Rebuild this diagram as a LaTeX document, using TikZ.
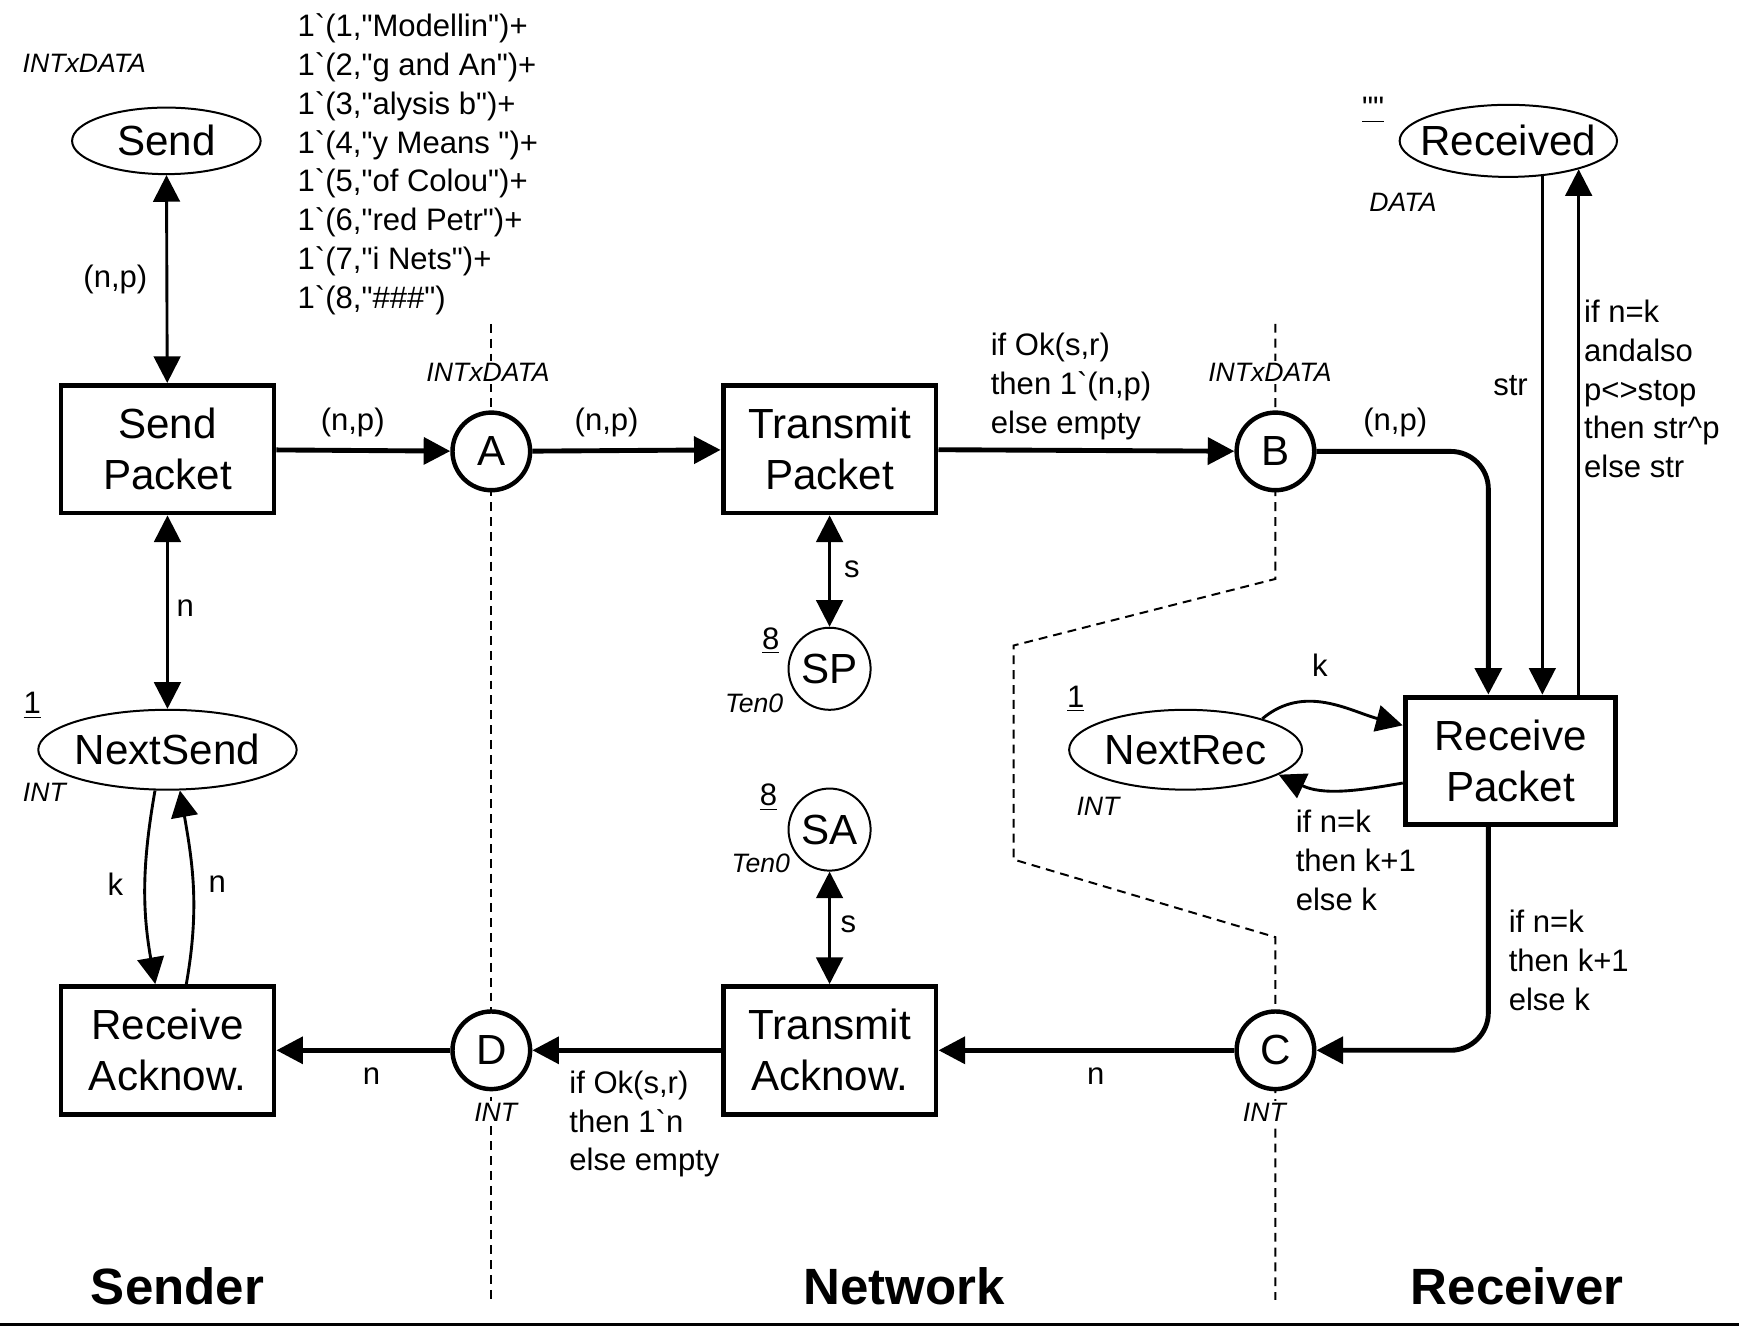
\documentclass[tikz,border=0pt]{standalone}
\usepackage{fontspec}
\setmainfont{Liberation Sans}[Ligatures=TeXOff]
\usetikzlibrary{arrows.meta,shapes.geometric}

\tikzset{
  trans/.style={draw, line width=2.2pt, fill=white, minimum width=96pt, minimum height=57.5pt,
    inner sep=0pt, align=center, font=\fontsize{19}{23}\selectfont},
  place/.style={draw, ellipse, line width=0.9pt, fill=white, inner sep=0pt,
    font=\fontsize{19}{23}\selectfont},
  port/.style={draw, circle, line width=2pt, fill=white, minimum size=35pt, inner sep=0pt,
    font=\fontsize{19}{23}\selectfont},
  limit/.style={draw, circle, line width=0.9pt, fill=white, minimum size=37pt, inner sep=0pt,
    font=\fontsize{19}{23}\selectfont},
  thickarc/.style={line width=2.2pt},
  thinarc/.style={line width=1.3pt},
  lbl/.style={inner sep=0pt, align=left, font=\fontsize{14}{17.5}\selectfont},
  typ/.style={inner sep=1pt, fill=white, font=\itshape\fontsize{12}{14}\selectfont},
  initm/.style={inner sep=0pt, font=\fontsize{14}{17.5}\selectfont},
  region/.style={inner sep=0pt, font=\bfseries\fontsize{23}{27}\selectfont},
  divider/.style={line width=0.9pt, dash pattern=on 4pt off 2.7pt}
}

\begin{document}
\begin{tikzpicture}[x=0.5pt,y=-0.5pt,>={Triangle[length=12pt,width=12pt]}]
\useasboundingbox (0,0) rectangle (1568,1196);

% borders between the three parts
\draw[divider] (443,292) -- (443,1172);
\draw[divider] (1150,292) -- (1150,522) -- (914,582) -- (914,775) -- (1150,845) -- (1150,1172);
\draw[line width=1.5pt] (0,1194) -- (1568,1194);

% sender
\node[place, minimum width=85pt, minimum height=30pt] (sendpl) at (150,127) {Send};
\node[trans] (sendpk) at (151,405) {Send\\Packet};
\node[place, inner xsep=-2pt, minimum width=116.5pt, minimum height=36pt] (nsend) at (151,676) {NextSend};
\node[trans] (recak) at (151,947) {Receive\\Acknow.};

% network
\node[port] (A) at (443,407) {A};
\node[port] (D) at (443,947) {D};
\node[trans] (trpk) at (748,405) {Transmit\\Packet};
\node[limit] (SP) at (748,603) {SP};
\node[limit] (SA) at (748,748) {SA};
\node[trans] (trak) at (748,947) {Transmit\\Acknow.};
\node[port] (B) at (1150,407) {B};
\node[port] (C) at (1150,947) {C};

% receiver
\node[place, minimum width=105pt, minimum height=36pt] (nrec) at (1069,676) {NextRec};
\node[trans, minimum width=95pt] (recpk) at (1362,686) {Receive\\Packet};
\node[place, inner xsep=-6pt, minimum width=98pt, minimum height=32.5pt] (recd) at (1360,127) {Received};

% arcs
\draw[thinarc,<->] (sendpl) -- (sendpk);
\draw[thinarc,<->] (sendpk) -- (nsend);
\draw[thickarc,->] (sendpk) -- (A);
\draw[thickarc,->] (A) -- (trpk);
\draw[thickarc,->] (trpk) -- (B);
\draw[thickarc,->,rounded corners=17pt] (B) -| ([xshift=-10pt]recpk.north);
\draw[thinarc,->] (recd.-46) -- (recd.-46 |- recpk.north);
\draw[thinarc,->] (recd.-22 |- recpk.north) -- (recd.-22);
\draw[thinarc,->] (nrec.22) to[out=40,in=165] ([yshift=16pt]recpk.west);
\draw[thinarc,->] ([yshift=-10pt]recpk.west) to[out=190,in=-25] (nrec.-15);
\draw[thickarc,->,rounded corners=17pt] ([xshift=-10pt]recpk.south) |- (C);
\draw[thickarc,->] (C) -- (trak);
\draw[thickarc,->] (trak) -- (D);
\draw[thickarc,->] (D) -- (recak);
\draw[thinarc,->] (nsend.-107) to[out=-100,in=100] ([xshift=-5.5pt]recak.north);
\draw[thinarc,->] ([xshift=8.5pt]recak.north) to[out=80,in=-80] (nsend.-73);
\draw[thinarc,<->] (trpk) -- (SP);
\draw[thinarc,<->] (SA) -- (trak);

% arc inscriptions
\node[lbl] at (104,252) {(n,p)};
\node[lbl] at (167,548) {n};
\node[lbl] at (318,381) {(n,p)};
\node[lbl] at (547,381) {(n,p)};
\node[lbl, anchor=north west] at (893,300) {if Ok(s,r)\\then 1\textasciigrave(n,p)\\else empty};
\node[lbl] at (1258,381) {(n,p)};
\node[lbl] at (1362,348) {str};
\node[lbl, anchor=north west] at (1428,270) {if n=k\\andalso\\p<>stop\\then str\textasciicircum p\\else str};
\node[lbl] at (1190,600) {k};
\node[lbl, anchor=north west] at (1168,730) {if n=k\\then k+1\\else k};
\node[lbl, anchor=north west] at (1360,820) {if n=k\\then k+1\\else k};
\node[lbl] at (988,970) {n};
\node[lbl, anchor=north west] at (513,965) {if Ok(s,r)\\then 1\textasciigrave n\\else empty};
\node[lbl] at (335,970) {n};
\node[lbl] at (104,797) {k};
\node[lbl] at (196,797) {n};
\node[lbl] at (768,513) {s};
\node[lbl] at (765,833) {s};

% colour sets
\node[typ] at (76,57) {INTxDATA};
\node[typ] at (40,714) {INT};
\node[typ] at (440,336) {INTxDATA};
\node[typ] at (1145,336) {INTxDATA};
\node[typ] at (680,634) {Ten0};
\node[typ] at (686,778) {Ten0};
\node[typ] at (990,727) {INT};
\node[typ] at (1265,182) {DATA};
\node[typ] at (447,1003) {INT};
\node[typ] at (1140,1003) {INT};

% initial markings
\node[lbl, anchor=north west] at (268,12) {1\textasciigrave(1,"Modellin")+\\1\textasciigrave(2,"g and An")+\\1\textasciigrave(3,"alysis b")+\\1\textasciigrave(4,"y Means ")+\\1\textasciigrave(5,"of Colou")+\\1\textasciigrave(6,"red Petr")+\\1\textasciigrave(7,"i Nets")+\\1\textasciigrave(8,"\#\#\#")};
\node[initm] at (29,636) {\underline{1}};
\node[initm] at (970,630) {\underline{1}};
\node[initm] at (695,578) {\underline{8}};
\node[initm] at (693,719) {\underline{8}};
\node[initm] at (1238,99) {\underline{""}};

% parts
\node[region] at (160,1160) {Sender};
\node[region] at (815,1160) {Network};
\node[region] at (1368,1160) {Receiver};
\end{tikzpicture}
\end{document}
